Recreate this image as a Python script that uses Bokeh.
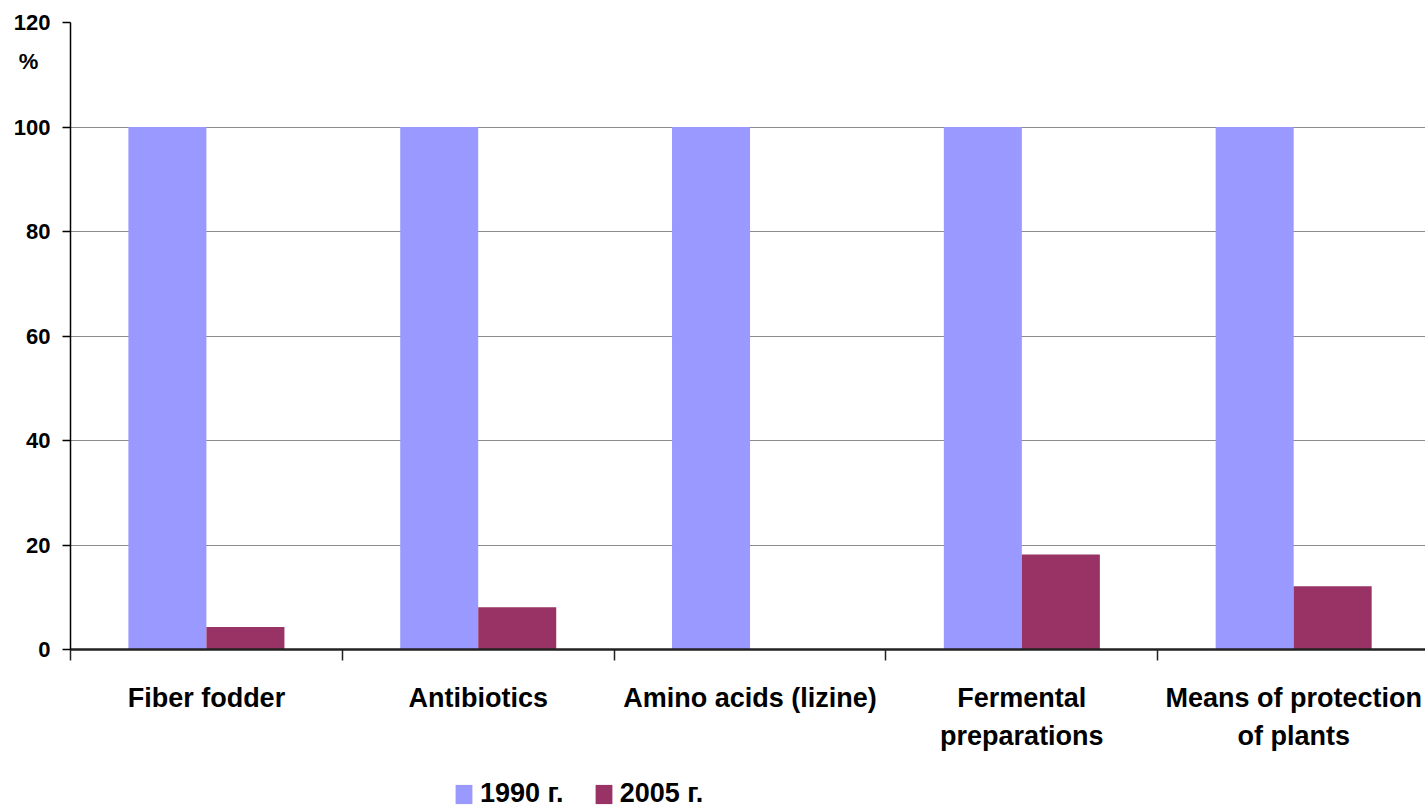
from bokeh.plotting import figure
from bokeh.layouts import column
from bokeh.models import ColumnDataSource, Range1d, FixedTicker, Legend, LegendItem
from bokeh.transform import dodge
from bokeh.embed import file_html
from bokeh.resources import INLINE

categories = ["Fiber fodder", "Antibiotics", "Amino acids (lizine)",
              "Fermental\npreparations", "Means of protection\nof plants"]
values_1990 = [100, 100, 100, 100, 100]
values_2005 = [4.3, 8.1, 0, 18.2, 12.1]
series_labels = ["1990 г.", "2005 г."]
series_colors = ["#9999FF", "#993366"]
y_ticks = [0, 20, 40, 60, 80, 100, 120]
y_unit_label = "%"
y_unit_position = 112.5

positions = list(range(1, len(categories) + 1))
boundaries = [i + 0.5 for i in range(len(categories) + 1)]
source = ColumnDataSource(dict(x=positions, v1990=values_1990, v2005=values_2005))

FONT = "Liberation Sans"

p = figure(width=1425, height=770,
           x_range=Range1d(0.5, 5.485), y_range=Range1d(0, 120),
           output_backend="svg", toolbar_location=None,
           min_border_left=70, min_border_right=0, min_border_top=22, min_border_bottom=121)
p.outline_line_color = None
p.background_fill_color = "white"
p.border_fill_color = "white"

r1 = p.vbar(x=dodge("x", -0.1435, range=p.x_range), top="v1990", width=0.287,
            source=source, fill_color=series_colors[0], line_color=None)
r2 = p.vbar(x=dodge("x", 0.1435, range=p.x_range), top="v2005", width=0.287,
            source=source, fill_color=series_colors[1], line_color=None)

# grid
p.xgrid.visible = False
p.ygrid.ticker = FixedTicker(ticks=y_ticks)
p.ygrid.grid_line_color = "#8c8c8c"
p.ygrid.grid_line_width = 1

# y axis: labels at major ticks (numbers + unit), tick marks drawn as minor ticks
ya = p.yaxis[0]
ya.ticker = FixedTicker(ticks=y_ticks + [y_unit_position], minor_ticks=y_ticks)
ya.major_label_overrides = {y_unit_position: y_unit_label + "\u00a0\u00a0"}
ya.axis_line_color = "black"
ya.axis_line_width = 1.5
ya.major_tick_line_color = None
ya.major_tick_out = 8
ya.major_tick_in = 0
ya.minor_tick_line_color = "black"
ya.minor_tick_line_width = 1.5
ya.minor_tick_out = 8
ya.minor_tick_in = 0
ya.major_label_text_font = FONT
ya.major_label_text_font_style = "bold"
ya.major_label_text_font_size = "22px"
ya.major_label_text_color = "black"
ya.major_label_standoff = 12

# x axis
xa = p.xaxis[0]
xa.ticker = FixedTicker(ticks=positions, minor_ticks=boundaries)
xa.major_label_overrides = {pos: name for pos, name in zip(positions, categories)}
xa.axis_line_color = "#222222"
xa.axis_line_width = 2.5
xa.major_tick_line_color = None
xa.major_tick_out = 0
xa.major_tick_in = 0
xa.minor_tick_line_color = "#222222"
xa.minor_tick_line_width = 1.5
xa.minor_tick_out = 11
xa.minor_tick_in = 0
xa.major_label_text_font = FONT
xa.major_label_text_font_style = "bold"
xa.major_label_text_font_size = "27px"
xa.major_label_text_color = "black"
xa.major_label_text_line_height = 1.28
xa.major_label_standoff = 22

# legend strip below the chart (its frame is aligned with the chart frame, x=70)
lg = figure(width=1425, height=39, x_range=Range1d(0, 1355), y_range=Range1d(0, 39),
            output_backend="svg", toolbar_location=None,
            x_axis_location=None, y_axis_location=None,
            min_border_left=70, min_border_right=0, min_border_top=0, min_border_bottom=0)
lg.outline_line_color = None
lg.grid.visible = False
dummy = ColumnDataSource(dict(x=[0], bottom=[0], top=[0]))
l1 = lg.vbar(x="x", bottom="bottom", top="top", width=0.01, source=dummy,
             fill_color=series_colors[0], line_color=None)
l2 = lg.vbar(x="x", bottom="bottom", top="top", width=0.01, source=dummy,
             fill_color=series_colors[1], line_color=None)

legend = Legend(items=[LegendItem(label=series_labels[0], renderers=[l1]),
                       LegendItem(label=series_labels[1], renderers=[l2])],
                orientation="horizontal", location=(383, 0),
                glyph_width=21, glyph_height=24, label_standoff=6, spacing=29,
                padding=0, margin=0, border_line_color=None,
                background_fill_alpha=0,
                label_text_font=FONT, label_text_font_style="bold",
                label_text_font_size="27px", label_text_color="black")
lg.add_layout(legend, "center")

layout = column(p, lg, spacing=0)
open("out.html", "w").write(file_html(layout, INLINE))
